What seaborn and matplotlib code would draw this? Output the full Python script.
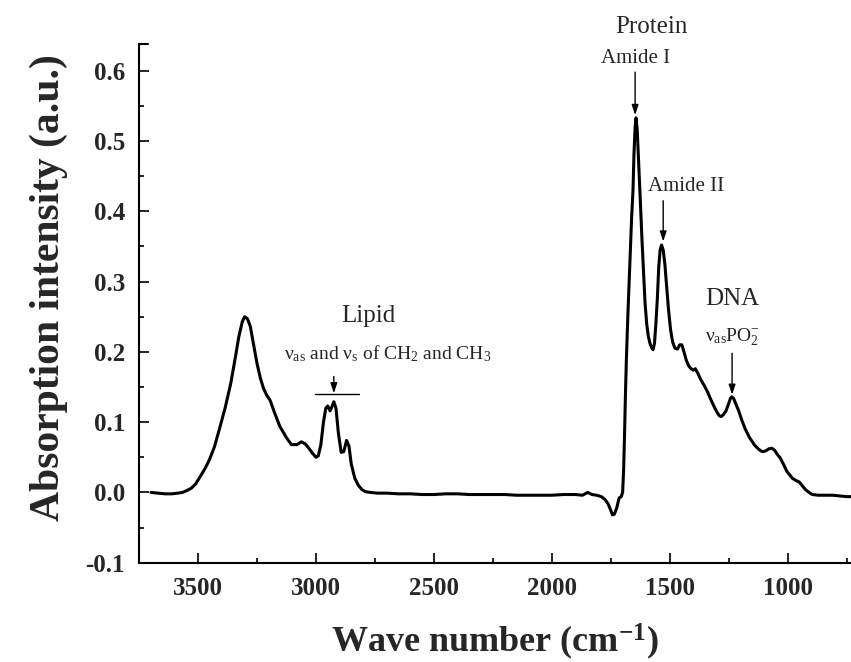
import matplotlib
matplotlib.use("Agg")
import matplotlib.pyplot as plt
import seaborn as sns
import pandas as pd
import numpy as np

# ---- data ----
wavenumber = [3699, 3670, 3640, 3610, 3585, 3565, 3545, 3528, 3510, 3486, 3470, 3452, 3430, 3410,
              3385, 3361, 3340, 3327, 3312, 3302, 3290, 3278, 3265, 3250, 3235, 3222, 3208, 3194,
              3175, 3153, 3125, 3104, 3080, 3062, 3045, 3035, 3015, 3000, 2990, 2979, 2968, 2958,
              2950, 2940, 2932, 2924, 2915, 2905, 2893, 2882, 2870, 2860, 2850, 2835, 2820, 2805,
              2790, 2770, 2740, 2700, 2650, 2600, 2550, 2500, 2450, 2400, 2350, 2300, 2250, 2200,
              2150, 2100, 2050, 2000, 1950, 1900, 1870, 1848, 1830, 1810, 1790, 1775, 1762, 1752,
              1743, 1735, 1725, 1715, 1706, 1700, 1696, 1692, 1688, 1684, 1678, 1670, 1662, 1656,
              1652, 1647, 1643, 1638, 1632, 1625, 1618, 1612, 1605, 1598, 1591, 1584, 1577, 1571,
              1565, 1559, 1553, 1547, 1541, 1535, 1528, 1521, 1514, 1506, 1497, 1488, 1478, 1468,
              1458, 1449, 1440, 1430, 1420, 1410, 1400, 1392, 1382, 1368, 1354, 1340, 1326, 1312,
              1300, 1290, 1282, 1272, 1262, 1252, 1244, 1238, 1230, 1220, 1208, 1195, 1180, 1162,
              1140, 1122, 1108, 1094, 1080, 1068, 1056, 1044, 1032, 1018, 1004, 992, 980, 966,
              952, 940, 925, 910, 896, 870, 840, 810, 780, 750, 732]
absorbance = [0.000, -0.001, -0.002, -0.002, -0.001, 0.000, 0.003, 0.006, 0.012, 0.025, 0.034, 0.046,
              0.065, 0.089, 0.120, 0.155, 0.195, 0.221, 0.243, 0.250, 0.247, 0.236, 0.212, 0.184,
              0.162, 0.148, 0.138, 0.131, 0.113, 0.094, 0.078, 0.068, 0.068, 0.072, 0.069, 0.065,
              0.056, 0.050, 0.052, 0.068, 0.100, 0.120, 0.123, 0.116, 0.122, 0.129, 0.120, 0.085,
              0.057, 0.058, 0.074, 0.066, 0.040, 0.020, 0.010, 0.004, 0.001, 0.000, -0.001, -0.001,
              -0.002, -0.002, -0.003, -0.003, -0.002, -0.002, -0.003, -0.003, -0.003, -0.003, -0.004,
              -0.004, -0.004, -0.004, -0.003, -0.003, -0.004, 0.000, -0.003, -0.004, -0.006, -0.010,
              -0.016, -0.024, -0.032, -0.031, -0.022, -0.008, -0.006, 0.000, 0.030, 0.080, 0.140,
              0.190, 0.250, 0.320, 0.390, 0.430, 0.480, 0.520, 0.533, 0.515, 0.470, 0.415, 0.360,
              0.318, 0.270, 0.240, 0.222, 0.212, 0.206, 0.203, 0.212, 0.240, 0.275, 0.320, 0.345,
              0.352, 0.345, 0.325, 0.295, 0.262, 0.232, 0.214, 0.205, 0.204, 0.210, 0.210, 0.200,
              0.188, 0.180, 0.176, 0.174, 0.176, 0.170, 0.160, 0.152, 0.143, 0.132, 0.122, 0.114,
              0.109, 0.108, 0.111, 0.116, 0.125, 0.133, 0.136, 0.134, 0.126, 0.116, 0.103, 0.090,
              0.078, 0.067, 0.061, 0.058, 0.059, 0.062, 0.063, 0.060, 0.054, 0.049, 0.040, 0.030,
              0.025, 0.020, 0.017, 0.015, 0.010, 0.004, 0.000, -0.003, -0.004, -0.004, -0.004,
              -0.005, -0.006, -0.006]

x_ticks = [3500, 3000, 2500, 2000, 1500, 1000]
y_ticks = [-0.1, 0.0, 0.1, 0.2, 0.3, 0.4, 0.5, 0.6]
y_tick_labels = ["-0.1", "0.0", "0.1", "0.2", "0.3", "0.4", "0.5", "0.6"]

df = pd.DataFrame({"wavenumber": wavenumber, "absorbance": absorbance})

sns.set_style("ticks")
plt.rcParams["font.family"] = ["Liberation Serif", "DejaVu Serif"]
plt.rcParams["mathtext.fontset"] = "custom"
plt.rcParams["mathtext.rm"] = "Liberation Serif"
plt.rcParams["mathtext.it"] = "Liberation Serif:italic"
plt.rcParams["mathtext.bf"] = "Liberation Serif:bold"

fig = plt.figure(figsize=(8.51, 6.62), dpi=100)
ax = fig.add_axes([0.1633, 0.150, 0.8367, 0.7835])

sns.lineplot(data=df, x="wavenumber", y="absorbance", sort=False, estimator=None,
             color="black", linewidth=2.2, ax=ax)

ax.set_xlim(3699, 732)
ax.set_ylim(-0.1, 0.638)

ax.set_xticks(x_ticks)
ax.set_xticklabels([str(t) for t in x_ticks])
ax.set_xticks(np.arange(3750, 700, -250), minor=True)
ax.set_yticks(y_ticks)
ax.set_yticklabels(y_tick_labels)
ax.set_yticks(np.arange(-0.05, 0.64, 0.1), minor=True)

for s in ["top", "right"]:
    ax.spines[s].set_visible(False)
for s in ["left", "bottom"]:
    ax.spines[s].set_linewidth(1.5)
    ax.spines[s].set_color("black")

ax.tick_params(axis="both", which="major", direction="in", length=7, width=1.2,
               labelsize=18, pad=10, color="black")
ax.tick_params(axis="both", which="minor", direction="in", length=3.5, width=1.2, color="black")
for lab in ax.get_xticklabels() + ax.get_yticklabels():
    lab.set_fontweight("bold")
# small cap at top of the left axis
ax.plot([0, 0.012], [1, 1], transform=ax.transAxes, color="black", lw=1.5, clip_on=False)

ax.set_xlabel(r"Wave number (cm$^{\mathbf{-1}}$)", fontsize=26, fontweight="bold", labelpad=16)
ax.set_ylabel("Absorption intensity (a.u.)", fontsize=30, fontweight="bold")
ax.yaxis.set_label_coords(-0.10, 0.53)

arrow_kw = dict(arrowstyle="-|>,head_length=0.6,head_width=0.2", color="black", lw=1.0,
                shrinkA=0, shrinkB=0)

# Protein / Amide I
ax.text(1578, 0.662, "Protein", fontsize=18, ha="center", va="center")
ax.text(1645, 0.618, "Amide I", fontsize=15, ha="center", va="center")
ax.annotate("", xy=(1647, 0.537), xytext=(1647, 0.598), arrowprops=arrow_kw)

# Amide II
ax.text(1432, 0.435, "Amide II", fontsize=15, ha="center", va="center")
ax.annotate("", xy=(1528, 0.357), xytext=(1528, 0.415), arrowprops=arrow_kw)

# Lipid
ax.text(2779, 0.251, "Lipid", fontsize=18, ha="center", va="center")
ax.text(3136, 0.197, r"ν$_{\mathrm{as}}$ and ν$_{\mathrm{s}}$ of CH$_{2}$ and CH$_{3}$",
        fontsize=14, ha="left", va="center")
ax.plot([3003, 2817], [0.140, 0.140], color="black", lw=1.0)
ax.annotate("", xy=(2924, 0.141), xytext=(2924, 0.165), arrowprops=arrow_kw)

# DNA
ax.text(1236, 0.275, "DNA", fontsize=18, ha="center", va="center")
ax.text(1236, 0.221, r"ν$_{\mathrm{as}}$PO$_{2}^{-}$", fontsize=14, ha="center", va="center")
ax.annotate("", xy=(1236, 0.139), xytext=(1236, 0.198), arrowprops=arrow_kw)

fig.savefig("out.png", dpi=100)
